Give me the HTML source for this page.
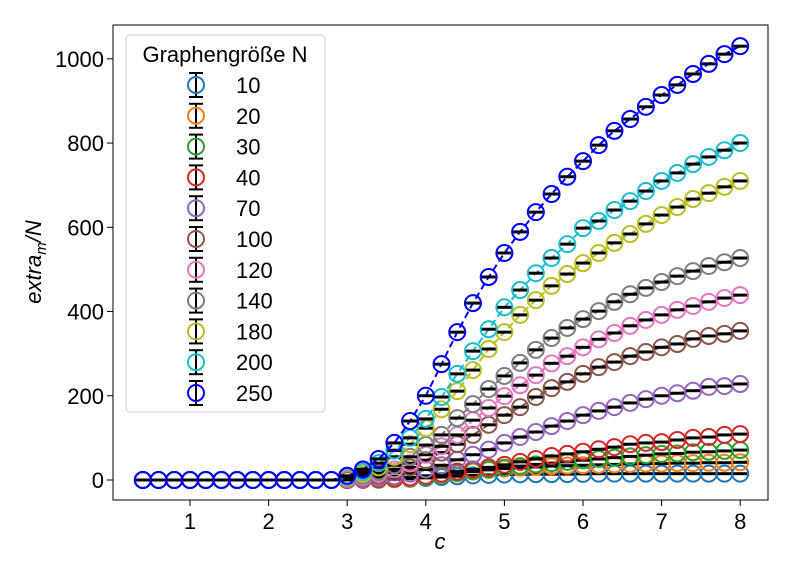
<!DOCTYPE html>
<html><head><meta charset="utf-8"><style>
body{margin:0;background:#fff;}
svg text{font-family:"Liberation Sans",sans-serif;}
</style></head><body>
<svg id="chart" width="792" height="576" viewBox="0 0 792 576" xmlns="http://www.w3.org/2000/svg">
<rect x="0" y="0" width="792" height="576" fill="#fff"/>
<g id="series"></g>
<rect x="113" y="25" width="655" height="475" fill="none" stroke="#000" stroke-width="1"/>
<g id="axes"></g>
<text x="440" y="549" font-size="22" font-style="italic" text-anchor="middle">c</text>
<text transform="translate(41,262) rotate(-90)" font-size="22" font-style="italic" text-anchor="middle">extra<tspan font-size="15" dy="5">m</tspan><tspan dy="-5">/N</tspan></text>
<g id="legend"></g>
</svg>
<script>
const xs = [0.4,0.6,0.8,1.0,1.2,1.4,1.6,1.8,2.0,2.2,2.4,2.6,2.8,3.0,3.2,3.4,3.6,3.8,4.0,4.2,4.4,4.6,4.8,5.0,5.2,5.4,5.6,5.8,6.0,6.2,6.4,6.6,6.8,7.0,7.2,7.4,7.6,7.8,8.0];
const labels = ["10","20","30","40","70","100","120","140","180","200","250"];
const colors = ["#1f77b4","#ff7f0e","#2ca02c","#d62728","#9467bd","#8c564b","#e377c2","#7f7f7f","#bcbd22","#17becf","#0000ff"];
const Z = [0,0,0,0,0,0,0,0,0,0,0,0,0];
const s10  = Z.concat([0,0.5,1,2,3,5,7,9,11,12,13,13.5,14,14,14,14.5,15,15,15,15,15,15,15,15,15,15]);
const s20  = Z.concat([0,0.5,1,2,4,8,12,16,20,24,27,29,31,33,34,35,36,37,38,39,39,40,40,41,41,42]);
const s30  = Z.concat([0,0.5,1,3,5,8,13,17,21,25,29,33,37,40,43,47,50,53,56,59,62,63,66,67,69,71]);
const s40  = Z.concat([0,1,2,4,6,10,15,20,25,30,36,43,50,57,62,67,73,78,85,88,90,95,100,102,107,109]);
const s70  = Z.concat([1,2,5,9,15,25,35,48,60,72,88,102,114,128,140,154,164,173,183,192,200,206,212,221,223,228]);
const s100 = Z.concat([2,5,10,18,30,47,65,85,107,131,154,173,197,218,233,252,268,280,294,304,315,323,335,342,347,354]);
const s120 = Z.concat([3,7,15,25,40,60,80,107,142,171,199,225,249,277,294,315,334,349,366,380,392,404,413,423,432,439]);
const s140 = Z.concat([5,10,20,35,55,83,107,147,180,216,247,278,309,337,361,382,401,423,441,456,470,484,496,508,517,527]);
const s180 = Z.concat([6,15,30,55,85,123,168,211,261,311,351,392,427,461,489,515,539,563,584,608,629,648,667,681,696,710]);
const s200 = Z.concat([8,20,40,70,100,145,197,252,306,358,410,451,491,527,560,598,615,641,662,686,710,729,750,767,783,800]);
const s250 = Z.concat([10,25,50,88,140,200,275,351,420,482,539,589,636,679,720,757,795,829,857,886,914,938,964,988,1011,1030]);
const allSeries = [s10,s20,s30,s40,s70,s100,s120,s140,s180,s200,s250];
const xTicks = [1,2,3,4,5,6,7,8];
const yTicks = [0,200,400,600,800,1000];

const NS="http://www.w3.org/2000/svg";
function X(v){return 190+(v-1)*78.6;}
function Y(v){return 480-v*0.4212;}
function mk(tag,attrs,parent){const e=document.createElementNS(NS,tag);for(const k in attrs)e.setAttribute(k,attrs[k]);parent.appendChild(e);return e;}

const axes=document.getElementById('axes');
xTicks.forEach(t=>{
  const l=mk('line',{x1:X(t),x2:X(t),y1:500,y2:506,stroke:'#000'},axes);
  
  
  const tx=mk('text',{x:X(t),y:529,'font-size':22,'text-anchor':'middle'},axes);
  tx.textContent=t;
  
  
});
yTicks.forEach(t=>{
  const l=mk('line',{x1:107,x2:113,y1:Y(t),y2:Y(t),stroke:'#000'},axes);
  
  
  const tx=mk('text',{x:104,y:Y(t)+8,'font-size':22,'text-anchor':'end'},axes);
  tx.textContent=t;
  
  
});

const sg=document.getElementById('series');
allSeries.forEach((s,i)=>{
  const g=mk('g',{},sg);
  
  
  const pts=s.map((v,j)=>X(xs[j])+','+Y(v)).join(' ');
  const pl=mk('polyline',{points:pts,fill:'none',stroke:colors[i],'stroke-width':2,'stroke-dasharray':'7,4'},g);
  
  
  s.forEach((v,j)=>{
    const c=mk('circle',{cx:X(xs[j]),cy:Y(v),r:8,fill:'none',stroke:colors[i],'stroke-width':2},g);
    
    
    const e=mk('line',{x1:X(xs[j])-7,x2:X(xs[j])+7,y1:Y(v),y2:Y(v),stroke:'#000','stroke-width':3},g);
    
    
  });
});

const lg=document.getElementById('legend');
const box=mk('rect',{x:126,y:35,width:199,height:377,rx:4,fill:'#fff','fill-opacity':0.8,stroke:'#ccc'},lg);


const tt=mk('text',{x:225,y:62,'font-size':22,'text-anchor':'middle'},lg);
tt.textContent='Graphengröße N';


labels.forEach((lab,i)=>{
  const y=85+i*30.8;
  const g=mk('g',{},lg);
  
  
  mk('line',{x1:196,x2:196,y1:y-12,y2:y+12,stroke:'#000','stroke-width':2},g);
  mk('line',{x1:189,x2:203,y1:y-12,y2:y-12,stroke:'#000','stroke-width':2},g);
  mk('line',{x1:189,x2:203,y1:y+12,y2:y+12,stroke:'#000','stroke-width':2},g);
  mk('circle',{cx:196,cy:y,r:8,fill:'none',stroke:colors[i],'stroke-width':2},g);
  const t=mk('text',{x:236,y:y+8,'font-size':22},g);
  t.textContent=lab;
});
</script>
</body></html>
